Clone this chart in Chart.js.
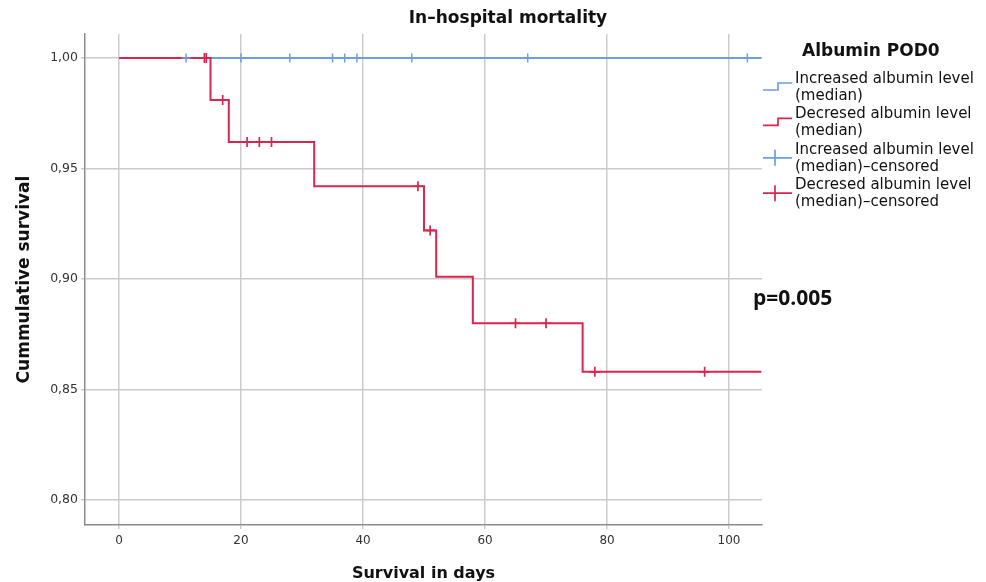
<!DOCTYPE html>
<html>
<head>
<meta charset="utf-8">
<title>In-hospital mortality</title>
<script src="https://cdn.jsdelivr.net/npm/chart.js@4.4.1/dist/chart.umd.min.js"></script>
<style>
  html, body { margin: 0; padding: 0; background: #fff; }
  #wrap { width: 986px; height: 582px; position: relative; }
</style>
</head>
<body>
<div id="wrap"><canvas id="kmChart"></canvas></div>
<script>
// Kaplan-Meier steps (days, cumulative survival)
const decTimes = [0, 15, 18, 32, 50, 52, 58, 76, 105.3];
const decSurv = [1.0, 0.981, 0.962, 0.942, 0.922, 0.901, 0.880, 0.858, 0.858];
const incTimes = [0, 105.3];
const incSurv = [1.0, 1.0];

// censored cases
const decCensTimes = [14, 14.3, 17, 21, 23, 25, 49, 51, 65, 70, 78, 96];
const decCensSurv = [1.0, 1.0, 0.981, 0.962, 0.962, 0.962, 0.942, 0.922, 0.880, 0.880, 0.858, 0.858];
const incCensTimes = [11, 20, 28, 35, 37, 39, 48, 67, 103];
const incCensSurv = [1, 1, 1, 1, 1, 1, 1, 1, 1];

const legendTitle = 'Albumin POD0';
const legendLabels = [
    ['Increased albumin level', '(median)'],
    ['Decresed albumin level', '(median)'],
    ['Increased albumin level', '(median)\u2013censored'],
    ['Decresed albumin level', '(median)\u2013censored']
];
const chartTitle = 'In\u2013hospital mortality';
const pValueText = 'p=0.005';

const blue = '#6a9fe6';
const red = '#d8264e';

function toPoints(xs, ys) {
    return xs.map((x, i) => ({ x: x, y: ys[i] }));
}

// title, legend and p-value drawn next to the plot
const sideText = {
    id: 'sideText',
    afterDraw(chart) {
        const ctx = chart.ctx;
        const area = chart.chartArea;
        ctx.save();
        ctx.fillStyle = '#111';
        ctx.textBaseline = 'middle';

        ctx.textAlign = 'center';
        ctx.font = 'bold 17px "DejaVu Sans"';
        ctx.fillText(chartTitle, 508, 19);

        ctx.textAlign = 'left';
        ctx.font = 'bold 17px "DejaVu Sans"';
        ctx.fillText(legendTitle, 802, 52);

        const x0 = area.right + 1;
        const x1 = x0 + 29;
        ctx.font = '15px "DejaVu Sans"';
        legendLabels.forEach((lines, i) => {
            const y = 79 + i * 35.4;
            const color = i % 2 === 0 ? blue : red;
            ctx.fillStyle = '#111';
            ctx.fillText(lines[0], 795, y);
            ctx.fillText(lines[1], 795, y + 17);
            ctx.strokeStyle = color;
            ctx.lineWidth = 1.7;
            ctx.beginPath();
            if (i < 2) {
                ctx.moveTo(x0, y + 11);
                ctx.lineTo(x0 + 15, y + 11);
                ctx.lineTo(x0 + 15, y + 4);
                ctx.lineTo(x1, y + 4);
            } else {
                ctx.moveTo(x0, y + 8);
                ctx.lineTo(x1, y + 8);
                ctx.moveTo(x0 + 12, y);
                ctx.lineTo(x0 + 12, y + 16);
            }
            ctx.stroke();
        });

        ctx.fillStyle = '#111';
        ctx.font = 'bold 21px "Open Sans"';
        ctx.fillText(pValueText, 753, 299);
        ctx.restore();
    }
};

const ctx = document.getElementById('kmChart').getContext('2d');
const kmChart = new Chart(ctx, {
    type: 'line',
    data: {
        datasets: [{
            label: legendLabels[3].join(' '),
            data: toPoints(decCensTimes, decCensSurv),
            showLine: false,
            pointStyle: 'cross',
            pointRadius: 5,
            pointBorderWidth: 1.7,
            borderColor: red,
            backgroundColor: red
        }, {
            label: legendLabels[2].join(' '),
            data: toPoints(incCensTimes, incCensSurv),
            showLine: false,
            pointStyle: 'cross',
            pointRadius: 4.5,
            pointBorderWidth: 1.5,
            borderColor: blue,
            backgroundColor: blue
        }, {
            label: legendLabels[1].join(' '),
            data: toPoints(decTimes, decSurv),
            stepped: true,
            borderColor: red,
            borderWidth: 2,
            pointRadius: 0,
            fill: false
        }, {
            label: legendLabels[0].join(' '),
            data: toPoints(incTimes, incSurv),
            stepped: true,
            borderColor: blue,
            borderWidth: 2,
            pointRadius: 0,
            fill: false
        }]
    },
    options: {
        responsive: true,
        maintainAspectRatio: false,
        animation: false,
        layout: {
            padding: { top: 34, right: 224, left: 0, bottom: 0 }
        },
        scales: {
            x: {
                type: 'linear',
                min: -5.57,
                max: 105.4,
                afterFit: function(scale) { scale.height = 57; },
                ticks: {
                    stepSize: 20,
                    includeBounds: false,
                    padding: 5,
                    color: '#333',
                    font: { family: 'DejaVu Sans', size: 12 }
                },
                grid: {
                    color: '#cbcbcb',
                    lineWidth: 1.5,
                    tickLength: 4
                },
                border: { color: '#8c8c8c', width: 1.5 },
                title: {
                    display: true,
                    text: 'Survival in days',
                    color: '#111',
                    font: { family: 'DejaVu Sans', size: 16, weight: 'bold', lineHeight: 1.0 },
                    padding: { top: 0, bottom: 0 }
                }
            },
            y: {
                min: 0.7887,
                max: 1.0109,
                afterFit: function(scale) { scale.width = 85; },
                ticks: {
                    stepSize: 0.05,
                    includeBounds: false,
                    padding: 3,
                    color: '#333',
                    font: { family: 'DejaVu Sans', size: 12.5 },
                    callback: function(value) {
                        return value.toFixed(2).replace('.', ',');
                    }
                },
                grid: {
                    color: '#cbcbcb',
                    lineWidth: 1.5,
                    tickLength: 4
                },
                border: { color: '#8c8c8c', width: 1.5 },
                title: {
                    display: true,
                    text: 'Cummulative survival',
                    color: '#111',
                    font: { family: 'DejaVu Sans', size: 17, weight: 'bold' },
                    padding: { top: 14, bottom: 0 }
                }
            }
        },
        plugins: {
            legend: { display: false },
            title: { display: false },
            tooltip: { enabled: false }
        }
    },
    plugins: [sideText]
});
</script>
</body>
</html>
